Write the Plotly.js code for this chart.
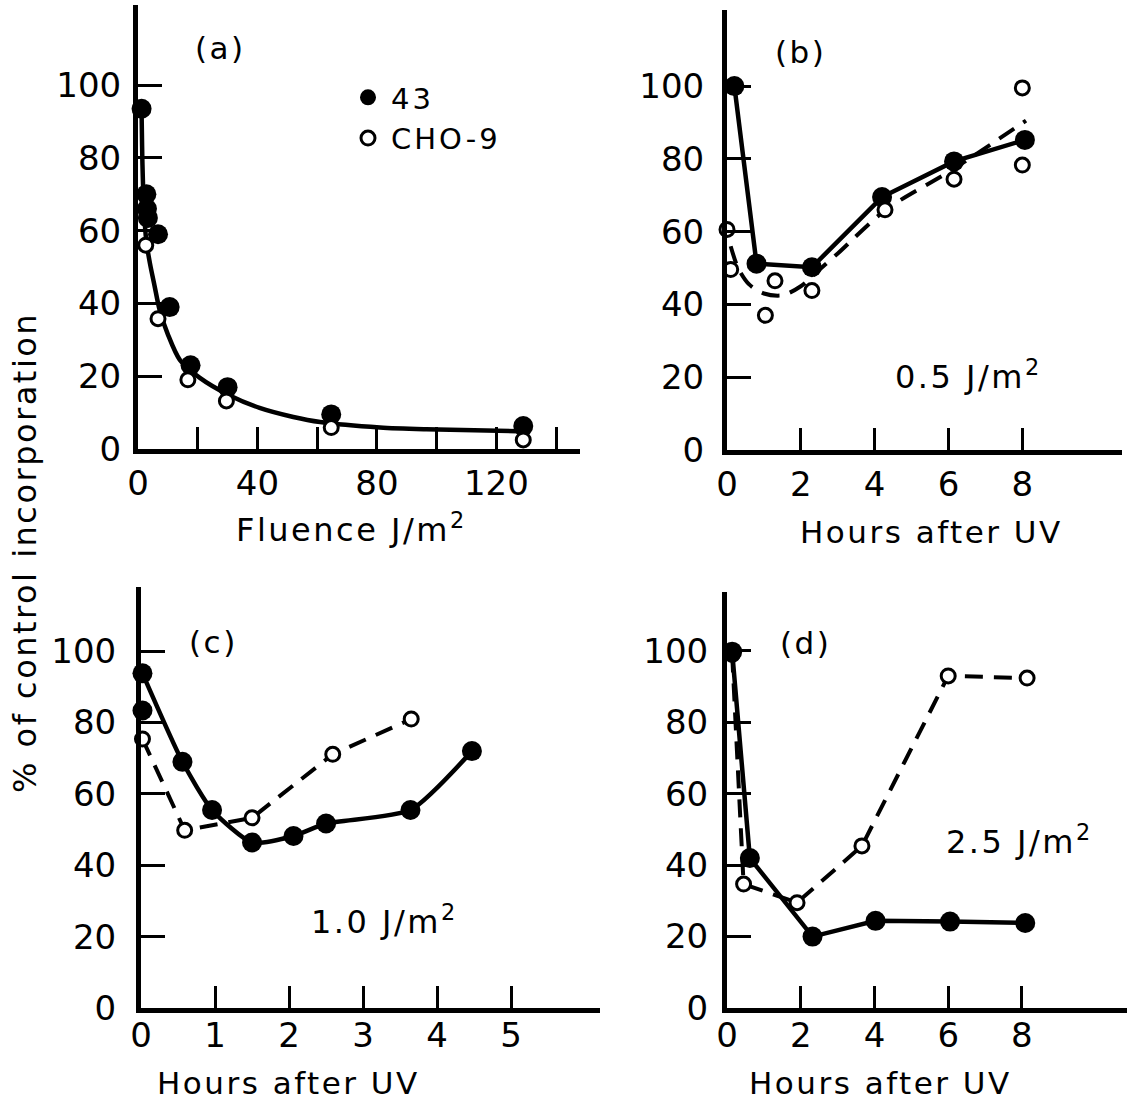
<!DOCTYPE html>
<html>
<head>
<meta charset="utf-8">
<script src="https://cdn.plot.ly/plotly-3.0.1.min.js"></script>
<style>
  html, body { margin: 0; padding: 0; background: #fff; }
  #chart { width: 1127px; height: 1102px; }
  .annotation-text { letter-spacing: 2.5px; }
  .legendtext { letter-spacing: 3px; }
</style>
</head>
<body>
<div id="chart"></div>
<script>
// ---------- DATA ----------
// Panel (a): fluence response
const aFilledX = [1.2, 2.8, 3.0, 3.3, 6.7, 10.6, 17.6, 30, 64.7, 129];
const aFilledY = [93.5, 70, 66, 63.5, 59, 39, 23, 17, 9.5, 6.3];
const aOpenX = [-2.1, 2.6, 6.7, 16.7, 29.6, 64.7, 129];
const aOpenY = [64.7, 56, 35.8, 19, 13.2, 5.9, 2.5];
const aFitX = [1.2, 1.5, 2, 2.8, 4, 5.5, 7.3, 10, 14, 20.6, 30.7, 40.7, 52, 61, 81, 96.5, 127];
const aFitY = [93, 78, 66, 57, 51, 45, 38, 31.5, 24.5, 19.6, 14.7, 11.3, 8.8, 7.4, 5.9, 5.4, 4.9];

// Panel (b): 0.5 J/m2
const bFilledX = [0.2, 0.8, 2.3, 4.2, 6.15, 8.07];
const bFilledY = [100, 51.2, 50.2, 69.5, 79.3, 85.2];
const bOpenX = [0, 0.1, 1.04, 1.3, 2.3, 4.28, 6.15, 8, 8];
const bOpenY = [60.6, 49.6, 37, 46.5, 43.8, 66, 74.4, 99.5, 78.3];
const bDashX = [0.1, 0.3, 0.6, 1.0, 1.5, 2.0, 2.5, 3.0, 4.3, 6.1, 8.1];
const bDashY = [56, 50, 45.5, 43, 42.5, 45, 49.5, 54, 66, 77, 90.5];

// Panel (c): 1.0 J/m2
const cFilledX = [0.02, 0.02, 0.56, 0.96, 1.5, 2.06, 2.5, 3.64, 4.47];
const cFilledY = [93.8, 83.4, 69, 55.5, 46.4, 48.2, 51.7, 55.5, 72];
const cOpenX = [0.02, 0.59, 1.5, 2.59, 3.65];
const cOpenY = [75.4, 49.8, 53.3, 71.1, 81];

// Panel (d): 2.5 J/m2
const dFilledX = [0.14, 0.62, 2.32, 4.03, 6.05, 8.09];
const dFilledY = [99.8, 42, 20, 24.4, 24.2, 23.8];
const dOpenX = [0.14, 0.45, 1.9, 3.66, 6.0, 8.14];
const dOpenY = [99, 34.7, 29.5, 45.4, 93, 92.4];

// Tick labels
const yTickVals = [0, 20, 40, 60, 80, 100];
const yTickText = ['0', '20', '40', '60', '80', '100'];
const aTickVals = [0, 40, 80, 120];
const aTickText = ['0', '40', '80', '120'];
const aMinorTickVals = [20, 60, 100, 140];
const bdTickVals = [0, 2, 4, 6, 8];
const bdTickText = ['0', '2', '4', '6', '8'];
const cTickVals = [0, 1, 2, 3, 4, 5];
const cTickText = ['0', '1', '2', '3', '4', '5'];

// Texts
const seriesNames = ['43', 'CHO-9'];
const panelLabels = ['(a)', '(b)', '(c)', '(d)'];
const doseLabels = ['0.5 J/m<sup>2</sup>', '1.0 J/m<sup>2</sup>', '2.5 J/m<sup>2</sup>'];
const xTitles = ['Fluence J/m<sup>2</sup>', 'Hours after UV', 'Hours after UV', 'Hours after UV'];
const yTitle = '% of control incorporation';

// ---------- STYLE ----------
const W = 1127, H = 1102;
const px = p => p / W;
const py = p => 1 - p / H;
const FONT = 'DejaVu Sans';
const black = '#000';

const filledMarker = { symbol: 'circle', size: 20, color: black, line: { width: 0 } };
const openMarker = { symbol: 'circle', size: 14, color: '#fff', line: { color: black, width: 3 } };
const solidLine = { color: black, width: 4.5 };
const dashLine = { color: black, width: 4, dash: '18px,11px' };

function tr(xa, ya, extra) {
  return Object.assign({ type: 'scatter', xaxis: xa, yaxis: ya, cliponaxis: false, showlegend: false, hoverinfo: 'skip' }, extra);
}

const traces = [
  // (a)
  tr('x', 'y', { x: aFitX, y: aFitY, mode: 'lines', line: Object.assign({ shape: 'spline', smoothing: 0.8 }, solidLine) }),
  tr('x', 'y', { x: aFilledX, y: aFilledY, mode: 'markers', marker: filledMarker, name: seriesNames[0], showlegend: true }),
  tr('x', 'y', { x: aOpenX, y: aOpenY, mode: 'markers', marker: openMarker, name: seriesNames[1], showlegend: true }),
  // (b)
  tr('x2', 'y2', { x: bDashX, y: bDashY, mode: 'lines', line: Object.assign({ shape: 'spline', smoothing: 0.8 }, dashLine) }),
  tr('x2', 'y2', { x: bFilledX, y: bFilledY, mode: 'lines+markers', line: solidLine, marker: filledMarker }),
  tr('x2', 'y2', { x: bOpenX, y: bOpenY, mode: 'markers', marker: openMarker }),
  // (c)
  tr('x3', 'y3', { x: cFilledX.filter((v, i) => i !== 1), y: cFilledY.filter((v, i) => i !== 1), mode: 'lines', line: Object.assign({ shape: 'spline', smoothing: 0.6 }, solidLine) }),
  tr('x3', 'y3', { x: cOpenX, y: cOpenY, mode: 'lines+markers', line: dashLine, marker: openMarker }),
  tr('x3', 'y3', { x: cFilledX, y: cFilledY, mode: 'markers', marker: filledMarker }),
  // (d)
  tr('x4', 'y4', { x: dOpenX, y: dOpenY, mode: 'lines+markers', line: dashLine, marker: openMarker }),
  tr('x4', 'y4', { x: dFilledX, y: dFilledY, mode: 'lines+markers', line: solidLine, marker: filledMarker })
];

const tickFont = { family: FONT, size: 34, color: black };
function xAxis(domain, range, vals, text, anchor, standoff, minorVals) {
  const ax = {
    domain: domain, range: range, anchor: anchor, fixedrange: true,
    showline: true, linecolor: black, linewidth: 5, showgrid: false, zeroline: false,
    ticks: 'inside', ticklen: 22, tickwidth: 3, tickcolor: black,
    tickmode: 'array', tickvals: vals, ticktext: text, tickfont: tickFont,
    ticklabelstandoff: standoff
  };
  if (minorVals) {
    ax.minor = { tickmode: 'array', tickvals: minorVals, ticks: 'inside', ticklen: 22, tickwidth: 3, tickcolor: black, showgrid: false };
  }
  return ax;
}
function yAxis(domain, range, anchor, standoff) {
  return {
    domain: domain, range: range, anchor: anchor, fixedrange: true,
    showline: true, linecolor: black, linewidth: 5, showgrid: false, zeroline: false,
    ticks: 'inside', ticklen: 24, tickwidth: 3, tickcolor: black,
    tickmode: 'array', tickvals: yTickVals, ticktext: yTickText, tickfont: tickFont,
    ticklabelstandoff: standoff
  };
}

function ann(text, x, y, size, extra) {
  return Object.assign({ text: text, xref: 'paper', yref: 'paper', x: px(x), y: py(y),
    xanchor: 'center', yanchor: 'middle', showarrow: false,
    font: { family: FONT, size: size, color: black } }, extra || {});
}

const layout = {
  width: W, height: H,
  margin: { l: 0, r: 0, t: 0, b: 0, pad: 0 },
  paper_bgcolor: '#fff', plot_bgcolor: 'rgba(0,0,0,0)',
  font: { family: FONT, color: black },
  showlegend: true,
  legend: {
    x: px(345), y: py(72), xanchor: 'left', yanchor: 'top',
    font: { family: FONT, size: 29, color: black },
    bgcolor: 'rgba(0,0,0,0)', borderwidth: 0, itemsizing: 'trace', tracegroupgap: 0,
    itemclick: false, itemdoubleclick: false, itemwidth: 36
  },
  xaxis: xAxis([px(138), px(580)], [0, 148], aTickVals, aTickText, 'y', 0, aMinorTickVals),
  yaxis: yAxis([py(449), py(5)], [0, 122], 'x', 5),
  xaxis2: xAxis([px(727), px(1122)], [0, 10.7], bdTickVals, bdTickText, 'y2', 0),
  yaxis2: yAxis([py(450), py(10)], [0, 120.9], 'x2', 11),
  xaxis3: xAxis([px(141), px(600)], [0, 6.2], cTickVals, cTickText, 'y3', -7),
  yaxis3: yAxis([py(1008), py(587)], [0, 118], 'x3', 13),
  xaxis4: xAxis([px(727), px(1127)], [0, 10.85], bdTickVals, bdTickText, 'y4', -7),
  yaxis4: yAxis([py(1008), py(592)], [0, 116.5], 'x4', 7),
  annotations: [
    ann(panelLabels[0], 220, 48, 31),
    ann(panelLabels[1], 800, 52, 31),
    ann(panelLabels[2], 213, 642, 31),
    ann(panelLabels[3], 805, 643, 31),
    ann(doseLabels[0], 968, 375, 32),
    ann(doseLabels[1], 384, 920, 32),
    ann(doseLabels[2], 1020, 840, 32),
    ann(xTitles[0], 351, 528, 32),
    ann(xTitles[1], 931, 532, 31),
    ann(xTitles[2], 288, 1083, 31),
    ann(xTitles[3], 880, 1083, 31),
    ann(yTitle, 25, 553, 32, { textangle: -90 })
  ]
};

Plotly.newPlot('chart', traces, layout, { staticPlot: true, displayModeBar: false });
</script>
</body>
</html>
